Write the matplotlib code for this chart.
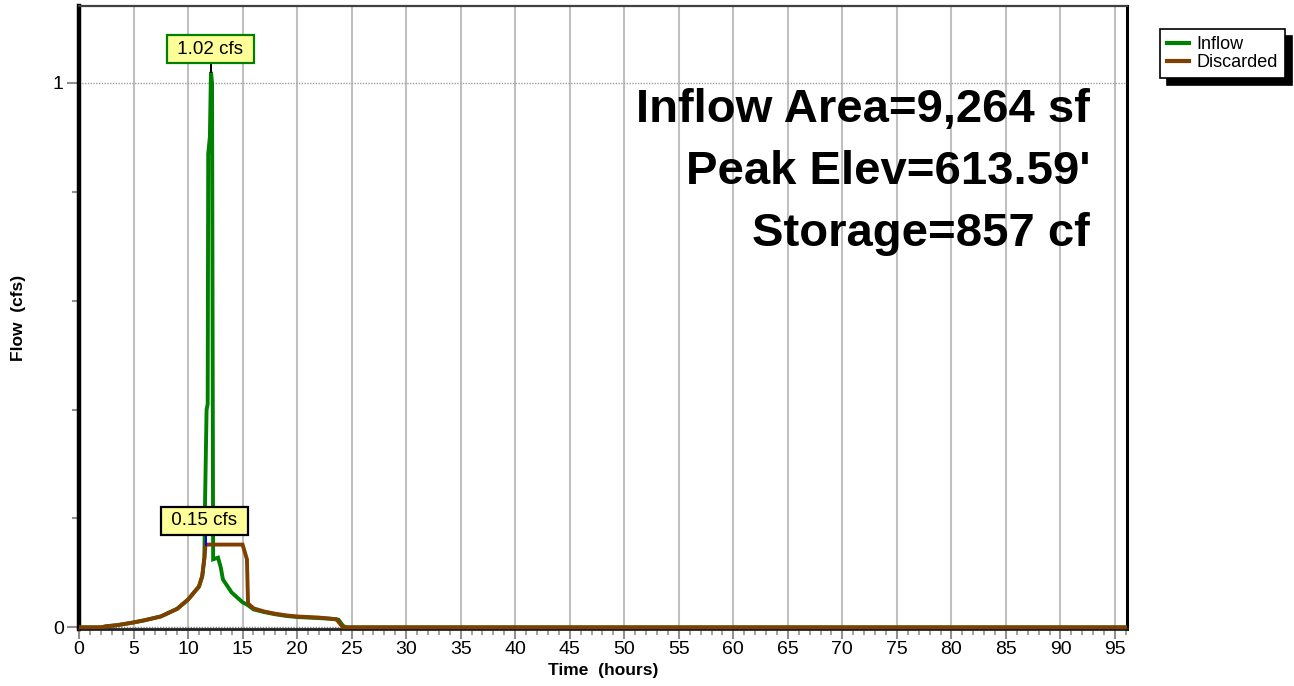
import matplotlib
matplotlib.use("Agg")
import matplotlib.pyplot as plt
from matplotlib.ticker import MultipleLocator, FixedLocator

plt.rcParams['font.family'] = ['Liberation Sans', 'DejaVu Sans']

# Hydrograph values (hours, cfs)
inflow_time = [0, 2, 2.5, 3.5, 5, 6, 7.5, 9, 10, 11, 11.3, 11.5, 11.55, 11.7,
               11.8, 11.85, 12.0, 12.1, 12.2, 12.3, 12.75, 13.0, 13.2, 14, 15,
               15.4, 16, 17, 18, 19, 20, 21, 22, 23, 23.8, 24.2, 24.5, 96]
inflow_cfs = [0, 0, 0.002, 0.004, 0.009, 0.013, 0.020, 0.034, 0.051, 0.075,
              0.094, 0.128, 0.22, 0.40, 0.41, 0.87, 0.90, 1.02, 1.00, 0.125,
              0.128, 0.11, 0.088, 0.064, 0.046, 0.042, 0.033, 0.028, 0.024,
              0.021, 0.019, 0.018, 0.017, 0.016, 0.014, 0.003, 0, 0]

discarded_time = [0, 2, 2.5, 3.5, 5, 6, 7.5, 9, 10, 11, 11.3, 11.5, 11.6, 15.0,
                  15.4, 15.5, 16, 17, 18, 19, 20, 21, 22, 23, 23.6, 24.2, 96]
discarded_cfs = [0, 0, 0.002, 0.004, 0.009, 0.013, 0.020, 0.034, 0.051, 0.075,
                 0.094, 0.128, 0.152, 0.152, 0.125, 0.044, 0.035, 0.029, 0.025,
                 0.022, 0.020, 0.019, 0.018, 0.016, 0.015, 0, 0]

inflow_peak = (12.1, 1.02)
discarded_peak = (11.6, 0.152)

summary_lines = ["Inflow Area=9,264 sf", "Peak Elev=613.59'", "Storage=857 cf"]

green = "#008000"
brown = "#7F3F00"

fig = plt.figure(figsize=(12.94, 6.86), dpi=100)
ax = fig.add_axes([79 / 1294, 57 / 686, (1127 - 79) / 1294, (629 - 6) / 686])

ax.set_xlim(0, 96.1)
ax.set_ylim(-0.003, 1.141)

# grid: vertical every 5 h, single dotted line at 1 cfs
for x in range(5, 96, 5):
    ax.axvline(x, color="#c0c0c0", lw=1.5, zorder=0)
ax.axhline(1.0, color="#a0a0a0", lw=1.0, ls=(0, (1, 1)), zorder=0)
ax.axhline(0.0, color="#808080", lw=1.0, ls=(0, (1, 1)), zorder=0)

ax.plot(inflow_time, inflow_cfs, color=green, lw=2.8, label="Inflow", zorder=3,
        solid_joinstyle="miter")
ax.plot(discarded_time, discarded_cfs, color=brown, lw=2.8, label="Discarded",
        zorder=4, solid_joinstyle="miter")

# peak callouts
ax.plot([inflow_peak[0], inflow_peak[0]], [inflow_peak[1], 1.04], color="black", lw=1.4, zorder=5)
ax.text(12.06, 1.062, " 1.02 cfs ", ha="center", va="center", fontsize=13.5, zorder=6,
        bbox=dict(boxstyle="square,pad=0.3", fc="#FFFF99", ec=green, lw=1.6))
ax.plot([discarded_peak[0], discarded_peak[0]], [discarded_peak[1], 0.175], color="blue", lw=1.4, zorder=5)
ax.text(11.5, 0.196, " 0.15 cfs ", ha="center", va="center", fontsize=13.5, zorder=6,
        bbox=dict(boxstyle="square,pad=0.3", fc="#FFFF99", ec="black", lw=1.6))

# summary text
for i, line in enumerate(summary_lines):
    fig.text(1090 / 1294, 1 - (110 + 62 * i) / 686, line, ha="right", va="center",
             fontsize=34, fontweight="bold")

# ticks
ax.xaxis.set_major_locator(MultipleLocator(5))
ax.xaxis.set_minor_locator(MultipleLocator(1))
ax.yaxis.set_major_locator(FixedLocator([0, 1]))
ax.yaxis.set_minor_locator(FixedLocator([0.2, 0.4, 0.6, 0.8]))
ax.tick_params(axis="x", which="major", length=7, width=1.5, color="#909090",
               labelsize=14, pad=2)
ax.tick_params(axis="x", which="minor", length=4, width=1.2, color="#909090")
ax.tick_params(axis="y", which="major", length=9, width=1.5, color="#909090",
               labelsize=14, pad=2)
ax.tick_params(axis="y", which="minor", length=5, width=1.5, color="#909090")
ax.set_yticklabels(["0", "1"])

ax.set_xlabel("Time  (hours)", fontsize=12.5, fontweight="bold", labelpad=3)
ax.set_ylabel("Flow  (cfs)", fontsize=12.5, fontweight="bold", labelpad=19)

ax.spines["left"].set_linewidth(3.2)
ax.spines["left"].set_color("black")
ax.spines["right"].set_linewidth(2.2)
ax.spines["right"].set_color("black")
ax.spines["top"].set_linewidth(1.6)
ax.spines["top"].set_color("#404040")
ax.spines["bottom"].set_linewidth(2.0)
ax.spines["bottom"].set_color("#202020")

leg = fig.legend(loc="upper left", bbox_to_anchor=(1160 / 1294, 1 - 29 / 686),
                 fontsize=13, frameon=True, fancybox=False, edgecolor="black",
                 handlelength=1.2, handletextpad=0.4, borderpad=0.4,
                 labelspacing=0.05, borderaxespad=0,
                 shadow={"color": "black", "alpha": 1, "ox": 5, "oy": -5})
leg.get_frame().set_linewidth(1.2)
for h in leg.get_lines():
    h.set_linewidth(3)

fig.savefig("out.png", dpi=100)
